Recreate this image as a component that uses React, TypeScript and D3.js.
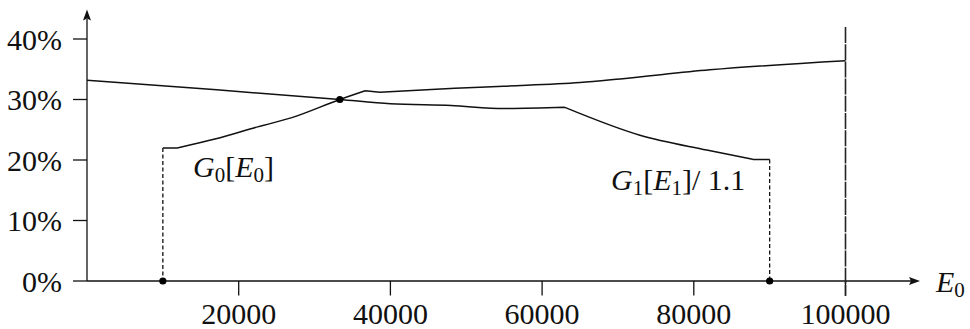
import React from "react";
import * as d3 from "d3";

// G0[E0]: starts at E0 = 10000, rises through the crossing point
const g0E = [10000, 11900, 17000, 22000, 27000, 33333, 36700, 38600, 48500, 54900, 65000, 70300, 82100, 100000];
const g0P = [22.0, 22.0, 23.5, 25.3, 27.0, 30.0, 31.45, 31.2, 31.85, 32.2, 32.8, 33.4, 34.9, 36.4];
// E0 values where G0 has a corner
const g0Corners = [11900, 36700, 38600];

// G1[E1]/1.1: falls from E0 = 0 to the end point at 90000
const g1E = [0, 17100, 33333, 40000, 48000, 55000, 63000, 72900, 81700, 87800, 90000];
const g1P = [33.2, 31.6, 30.0, 29.3, 29.0, 28.5, 28.7, 24.1, 21.65, 20.1, 20.1];
const g1Corners = [63000, 87800];

const xTicks = [20000, 40000, 60000, 80000, 100000];
const yTicks = [0, 10, 20, 30, 40];

// marked points: lower ends of the two dotted drops, and the crossing
const dotE = [10000, 90000, 33333];
const dotP = [0, 0, 30];

const W = 970;
const H = 329;
const FONT = "'Liberation Serif', 'Times New Roman', serif";
const FS = 30;
const SUB = 21;

type Pt = [number, number];

// split a polyline at its corners so each piece can be smoothed on its own
function pieces(es: number[], ps: number[], corners: number[]): Pt[][] {
  const out: Pt[][] = [];
  let cur: Pt[] = [];
  es.forEach((e, i) => {
    cur.push([e, ps[i]]);
    if (corners.includes(e) && i > 0 && i < es.length - 1) {
      out.push(cur);
      cur = [[e, ps[i]]];
    }
  });
  out.push(cur);
  return out;
}

export default function App() {
  const x = d3.scaleLinear().domain([0, 100000]).range([87, 845.5]);
  const y = d3.scaleLinear().domain([0, 40]).range([281, 39]);

  const line = d3
    .line<Pt>()
    .x((d) => x(d[0]))
    .y((d) => y(d[1]))
    .curve(d3.curveMonotoneX);

  const curvePath = (es: number[], ps: number[], corners: number[]) =>
    pieces(es, ps, corners)
      .map((p) => line(p) ?? "")
      .join(" ");

  const x0 = x(0);
  const y0 = y(0);
  const ink = "#111";

  return (
    <svg
      width={W}
      height={H}
      viewBox={`0 0 ${W} ${H}`}
      style={{ position: "absolute", left: 0, top: 0, background: "#fff", fontFamily: FONT }}
    >
      {/* axes */}
      <line x1={x0} y1={y0} x2={911} y2={y0} stroke={ink} strokeWidth={1.3} />
      <path d={`M920,${y0} L909,${y0 - 4} L911,${y0} L909,${y0 + 4} Z`} fill={ink} />
      <line x1={x0} y1={y0} x2={x0} y2={19} stroke={ink} strokeWidth={1.3} />
      <path d={`M${x0},9.5 L${x0 - 4},20.5 L${x0},18.5 L${x0 + 4},20.5 Z`} fill={ink} />

      {/* y ticks and labels */}
      {yTicks.map((t) => (
        <g key={`y${t}`}>
          <line x1={x0 - 14} x2={x0} y1={y(t)} y2={y(t)} stroke={ink} strokeWidth={1.3} />
          <text x={62} y={y(t) + 10.5} textAnchor="end" fontSize={FS} fill={ink}>
            {`${t}%`}
          </text>
        </g>
      ))}

      {/* x ticks and labels */}
      {xTicks.map((t) => (
        <g key={`x${t}`}>
          <line x1={x(t)} x2={x(t)} y1={y0} y2={y0 + 14.5} stroke={ink} strokeWidth={1.3} />
          <text x={x(t)} y={324} textAnchor="middle" fontSize={FS} fill={ink}>
            {t}
          </text>
        </g>
      ))}

      {/* upper bound at E0 = 100000 */}
      <line
        x1={x(100000)}
        x2={x(100000)}
        y1={27}
        y2={y0 + 15}
        stroke="#222"
        strokeWidth={1.6}
        strokeDasharray="16 1.2"
      />

      {/* dotted drops to the axis */}
      <line
        x1={x(g0E[0])}
        x2={x(g0E[0])}
        y1={y(g0P[0])}
        y2={y0}
        stroke={ink}
        strokeWidth={1.3}
        strokeDasharray="4 2.5"
      />
      <line
        x1={x(g1E[g1E.length - 1])}
        x2={x(g1E[g1E.length - 1])}
        y1={y(g1P[g1P.length - 1])}
        y2={y0}
        stroke={ink}
        strokeWidth={1.3}
        strokeDasharray="4 2.5"
      />

      {/* curves */}
      <path d={curvePath(g1E, g1P, g1Corners)} fill="none" stroke={ink} strokeWidth={1.5} strokeLinejoin="round" />
      <path d={curvePath(g0E, g0P, g0Corners)} fill="none" stroke={ink} strokeWidth={1.5} strokeLinejoin="round" />

      {/* marked points */}
      {dotE.map((e, i) => (
        <circle key={`d${i}`} cx={x(e)} cy={y(dotP[i])} r={3.6} fill="#000" />
      ))}

      {/* curve labels */}
      <text x={193} y={177} fontSize={FS} fill={ink}>
        <tspan fontStyle="italic">G</tspan>
        <tspan fontSize={SUB} dy={5}>0</tspan>
        <tspan dy={-5}>[</tspan>
        <tspan fontStyle="italic">E</tspan>
        <tspan fontSize={SUB} dy={5}>0</tspan>
        <tspan dy={-5}>]</tspan>
      </text>
      <text x={611} y={190} fontSize={FS} fill={ink}>
        <tspan fontStyle="italic">G</tspan>
        <tspan fontSize={SUB} dy={5}>1</tspan>
        <tspan dy={-5}>[</tspan>
        <tspan fontStyle="italic">E</tspan>
        <tspan fontSize={SUB} dy={5}>1</tspan>
        <tspan dy={-5}>]/ 1.1</tspan>
      </text>

      {/* x-axis name */}
      <text x={936} y={292} fontSize={FS} fill={ink}>
        <tspan fontStyle="italic">E</tspan>
        <tspan fontSize={SUB} dy={5}>0</tspan>
      </text>
    </svg>
  );
}
